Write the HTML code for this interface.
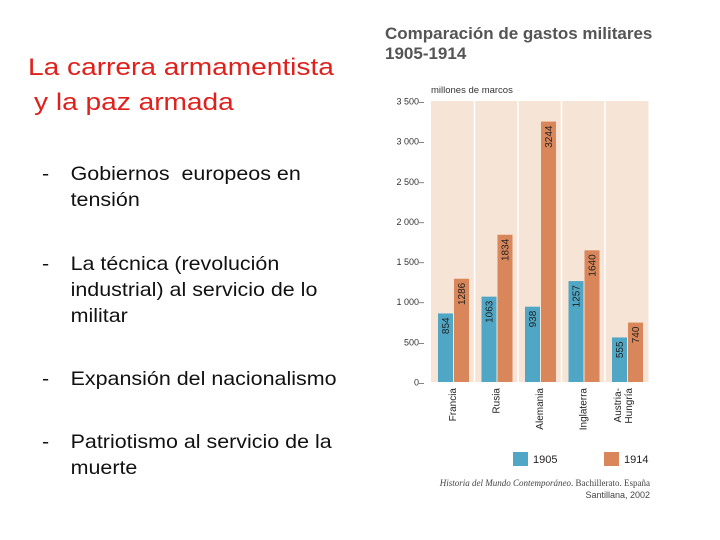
<!DOCTYPE html>
<html><head><meta charset="utf-8"><style>
body{margin:0;width:720px;height:540px;background:#fff;position:relative;font-family:"Liberation Sans",sans-serif;overflow:hidden}
.t{position:absolute;white-space:nowrap;transform-origin:0 0}
.red{color:#e0201c;font-size:24px;left:28px;transform:scaleX(1.17)}
.b{font-size:19.5px;color:#111;left:42px;line-height:26px;transform:scaleX(1.1)}
.b span{position:absolute;left:0}
.b div{padding-left:26px}
</style></head><body>
<div class="t red" style="top:54px">La carrera armamentista</div>
<div class="t red" style="top:89px;left:34px">y la paz armada</div>
<div class="t b" style="top:161px"><span>-</span><div>Gobiernos&nbsp; europeos en<br>tensión</div></div>
<div class="t b" style="top:251px"><span>-</span><div>La técnica (revolución<br>industrial) al servicio de lo<br>militar</div></div>
<div class="t b" style="top:366px"><span>-</span><div>Expansión del nacionalismo</div></div>
<div class="t b" style="top:429px"><span>-</span><div>Patriotismo al servicio de la<br>muerte</div></div>
<svg id="c" width="720" height="540" style="position:absolute;left:0;top:0"></svg>
<script>
const categories=["Francia","Rusia","Alemania","Inglaterra","Austria-Hungría"];
const v1905=[854,1063,938,1257,555];
const v1914=[1286,1834,3244,1640,740];
const labels1905=["854","1063","938","1257","555"];
const labels1914=["1286","1834","3244","1640","740"];
const ticks=[0,500,1000,1500,2000,2500,3000,3500];
const tickLabels=["0","500","1 000","1 500","2 000","2 500","3 000","3 500"];
const NS="http://www.w3.org/2000/svg",svg=document.getElementById('c');
function el(t,a,p){const e=document.createElementNS(NS,t);for(const k in a)e.setAttribute(k,a[k]);(p||svg).appendChild(e);return e;}
const x0=431,colW=43.5,yBase=382,yTop=101;
const y=v=>yBase-(v/3500)*(yBase-yTop);
let t=el('text',{x:385,y:39,'font-size':17,fill:'#555','font-weight':'bold'});t.textContent="Comparación de gastos militares";

t=el('text',{x:385,y:59,'font-size':17,fill:'#555','font-weight':'bold'});t.textContent="1905-1914";

t=el('text',{x:431,y:93,'font-size':9.5,fill:'#333'});t.textContent="millones de marcos";

const bg=el('rect',{x:x0,y:yTop,width:colW*5,height:yBase-yTop,fill:'#f6e4d6'});

for(let i=1;i<5;i++){const l=el('line',{x1:x0+i*colW,x2:x0+i*colW,y1:yTop,y2:yBase,stroke:'#fff','stroke-width':1.5});}
ticks.forEach((v,i)=>{const tx=el('text',{x:424,y:y(v)+3.5,'font-size':9,fill:'#333','text-anchor':'end'});tx.textContent=tickLabels[i]+'–';
});
categories.forEach((c,i)=>{const cx=x0+i*colW;
 const bw=15;
 [[v1905,labels1905,'#4fa7c5',7,'bar-1905'],[v1914,labels1914,'#d9865a',23,'bar-1914']].forEach(([vals,lb,col,off,nm])=>{
  const r=el('rect',{x:cx+off,y:y(vals[i]),width:bw,height:yBase-y(vals[i]),fill:col});
  
  const tx=el('text',{transform:`translate(${cx+off+bw/2+3.5},${y(vals[i])+4}) rotate(-90)`,'font-size':10,fill:'#222','text-anchor':'end'});tx.textContent=lb[i];
  
 });
 const parts=c==="Austria-Hungría"?["Austria-","Hungría"]:[c];
 parts.forEach((p,j)=>{const tx=el('text',{transform:`translate(${cx+22+(parts.length>1?(j?5:-6):3)},${388}) rotate(-90)`,'font-size':10,fill:'#222','text-anchor':'end'});tx.textContent=p;
 });
});
[["#4fa7c5","1905",513],["#d9865a","1914",604]].forEach(([c,l,x])=>{
 const r=el('rect',{x:x,y:452,width:15,height:14,fill:c});
 const tx=el('text',{x:x+20,y:463,'font-size':11,fill:'#222'});tx.textContent=l;});
t=el('text',{x:650,y:486,'font-size':9,fill:'#444','text-anchor':'end','font-family':'Liberation Serif'});t.innerHTML='<tspan font-style="italic">Historia del Mundo Contemporáneo</tspan>. Bachillerato. España';

t=el('text',{x:650,y:498,'font-size':9,fill:'#444','text-anchor':'end'});t.textContent='Santillana, 2002';

</script>
</body></html>
